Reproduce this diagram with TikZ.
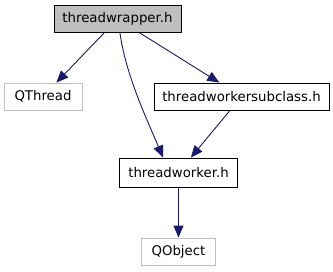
\documentclass[tikz,border=0pt]{standalone}
\usepackage{fontspec}
\setmainfont{DejaVu Sans}
\usetikzlibrary{arrows.meta}

\definecolor{edgeblue}{HTML}{191970}
\definecolor{grayfill}{HTML}{BFBFBF}

\begin{document}
\begin{tikzpicture}[
  x=1pt, y=-1pt,
  every node/.style={font=\fontsize{13.3}{16}\selectfont, inner sep=0pt, minimum height=27pt},
  file/.style={draw, fill=white, line width=0.8pt},
  current/.style={file, fill=grayfill},
  external/.style={draw=grayfill, fill=white, line width=0.8pt},
  line/.style={-{Triangle[length=12pt,width=10pt]}, edgeblue, line width=0.9pt}
]
\useasboundingbox (0,0) rectangle (333,272);

% ===== Include graph: headers =====
\node[current, minimum width=127pt] (wrapper) at (117.5,19) {threadwrapper.h};
\node[external, minimum width=78pt] (qthread) at (43,96.5) {QThread};
\node[file, minimum width=175pt] (subclass) at (241.5,96.5) {threadworkersubclass.h};
\node[file, minimum width=118pt, minimum height=29pt] (worker) at (178.5,172.5) {threadworker.h};
\node[external, minimum width=74pt] (qobject) at (178.5,251.5) {QObject};

% ===== Edges =====
\draw[line] (wrapper) -- (qthread);
\draw[line] (wrapper) -- (subclass);
\draw[line] (wrapper.-80) .. controls (126,75) and (145,115) .. (worker.136); % direct include
\draw[line] (subclass) -- (worker);
\draw[line] (worker) -- (qobject);
\end{tikzpicture}
\end{document}
